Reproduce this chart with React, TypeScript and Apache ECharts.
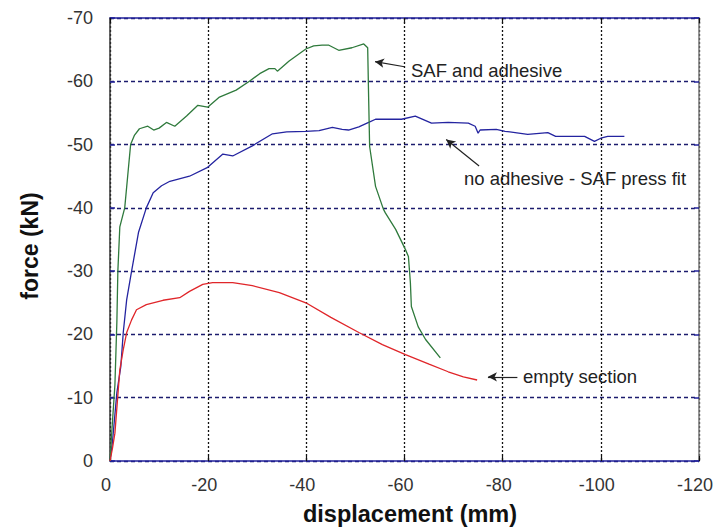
import React, { useEffect, useRef } from "react";
import * as echarts from "echarts";

const xTickInterval = 20;
const yTickInterval = 10;

const safAndAdhesive: [number, number][] = [
  [0, 0], [-0.4, -5], [-1, -12], [-1.4, -22], [-1.6, -30], [-2, -37], [-3, -40],
  [-3.6, -45], [-4.2, -50], [-5, -51.5], [-6, -52.5], [-7.7, -52.9], [-8.9, -52.3],
  [-10, -52.6], [-11.5, -53.5], [-13.2, -52.9], [-15.6, -54.5], [-17.9, -56.2],
  [-19.9, -55.9], [-22.3, -57.5], [-25.7, -58.6], [-28.4, -60], [-30.5, -61.2],
  [-32.4, -62], [-33.6, -62], [-34.1, -61.6], [-36.5, -63.2], [-39.9, -65.1],
  [-41.5, -65.6], [-43.2, -65.7], [-44.6, -65.7], [-46.6, -64.9], [-49.3, -65.3],
  [-51.7, -65.9], [-52.5, -65.3], [-52.7, -57.2], [-52.9, -49.7], [-54.1, -43.4],
  [-55.7, -39.8], [-56.1, -39.2], [-58.2, -36.6], [-60.2, -33.4], [-60.8, -32.3],
  [-61.2, -28.2], [-61.4, -24.4], [-62.8, -21.2], [-64.3, -19.2], [-67.3, -16.3],
];

const noAdhesive: [number, number][] = [
  [0, 0], [-0.5, -3], [-1.4, -10.8], [-2.2, -14.9], [-2.7, -20.3], [-3.4, -25.5],
  [-4.4, -30], [-5.8, -36.1], [-7.4, -40], [-8.8, -42.4], [-10.5, -43.5],
  [-12.2, -44.2], [-16.2, -45], [-19.9, -46.4], [-23, -48.5], [-25, -48.2],
  [-29, -49.8], [-33.1, -51.7], [-36, -52], [-39.9, -52.1], [-42.6, -52.2],
  [-45.3, -52.7], [-47.3, -52.4], [-48.6, -52.3], [-50.7, -52.8], [-52.7, -53.5],
  [-54.1, -54], [-59.4, -54], [-62.2, -54.5], [-65.5, -53.4], [-68.9, -53.5],
  [-73, -53.4], [-74.4, -52.9], [-75, -51.8], [-75.4, -52.3], [-78.7, -52.4],
  [-80.5, -52.1], [-85.1, -51.6], [-89.2, -51.9], [-90.8, -51.3], [-96.7, -51.3],
  [-98.7, -50.5], [-100, -51], [-101.4, -51.3], [-104.8, -51.3],
];

const emptySection: [number, number][] = [
  [0, 0], [-0.5, -2], [-1, -4.4], [-2, -14.4], [-2.7, -17.6], [-3.4, -20.3],
  [-4.4, -22.3], [-5.4, -23.9], [-7.4, -24.7], [-10.8, -25.4], [-14.2, -25.8],
  [-16.2, -26.8], [-18.9, -27.9], [-20.9, -28.2], [-25, -28.2], [-29, -27.7],
  [-34.5, -26.6], [-39.9, -25], [-45, -22.7], [-50.7, -20.3], [-55.5, -18.4],
  [-60.2, -16.8], [-65, -15.3], [-68.9, -14.1], [-72, -13.3], [-74.8, -12.8],
];

// annotation arrows: [tail, head] in data coordinates
const arrowSaf: [number, number][] = [[-60, -62.3], [-54, -63.1]];
const arrowNoAdh: [number, number][] = [[-75.2, -46.6], [-68.5, -50.8]];
const arrowEmpty: [number, number][] = [[-83, -13.3], [-77, -13.3]];

const labels = ["SAF and adhesive", "no adhesive - SAF press fit", "empty section"];

const FONT = "'Liberation Sans', Arial, sans-serif";

export default function App() {
  const ref = useRef<HTMLDivElement>(null);
  useEffect(() => {
    const chart = echarts.init(ref.current!, null, { renderer: "svg" });
    const arrowLine = (a: [number, number][]) => [
      { coord: a[0], symbol: "none" },
      { coord: a[1], symbol: "arrow" },
    ];
    chart.setOption({
      animation: false,
      backgroundColor: "#ffffff",
      grid: { left: 110, right: 14, top: 18, bottom: 70 },
      xAxis: [
        {
          type: "value",
          min: -120,
          max: 0,
          interval: xTickInterval,
          inverse: true,
          position: "bottom",
          axisLine: { show: true, onZero: false, lineStyle: { color: "#22229a", width: 1.5 } },
          axisTick: { show: true, inside: true, length: 5, lineStyle: { color: "#111", width: 1.2 } },
          axisLabel: {
            color: "#333",
            fontSize: 18,
            fontFamily: FONT,
            margin: 15,
            padding: [0, 8, 0, 0],
          },
          splitLine: {
            show: true,
            lineStyle: { color: "#111", type: [2, 2], width: 1.3 },
          },
        },
        {
          type: "value",
          min: -120,
          max: 0,
          interval: xTickInterval,
          inverse: true,
          position: "top",
          axisLine: { show: true, onZero: false, lineStyle: { color: "#22229a", width: 1.5 } },
          axisTick: { show: true, inside: true, length: 5, lineStyle: { color: "#111", width: 1.2 } },
          axisLabel: { show: false },
          splitLine: { show: false },
        },
      ],
      yAxis: [
        {
          type: "value",
          min: -70,
          max: 0,
          interval: yTickInterval,
          inverse: true,
          position: "left",
          axisLine: { show: true, onZero: false, lineStyle: { color: "#333", width: 1.5 } },
          axisTick: { show: true, inside: true, length: 5, lineStyle: { color: "#22229a", width: 1.5 } },
          axisLabel: { color: "#333", fontSize: 18, fontFamily: FONT, margin: 17 },
          splitLine: {
            show: true,
            lineStyle: { color: "#1c1c6e", type: [4, 3], width: 1.3 },
          },
        },
        {
          type: "value",
          min: -70,
          max: 0,
          interval: yTickInterval,
          inverse: true,
          position: "right",
          axisLine: { show: true, onZero: false, lineStyle: { color: "#777", width: 1.5 } },
          axisTick: { show: true, inside: true, length: 5, lineStyle: { color: "#22229a", width: 1.5 } },
          axisLabel: { show: false },
          splitLine: { show: false },
        },
      ],
      series: [
        {
          name: labels[1],
          type: "line",
          data: noAdhesive,
          showSymbol: false,
          lineStyle: { color: "#2424a0", width: 1.3 },
          itemStyle: { color: "#2424a0" },
          z: 3,
        },
        {
          name: labels[0],
          type: "line",
          data: safAndAdhesive,
          showSymbol: false,
          lineStyle: { color: "#2f7a3c", width: 1.3 },
          itemStyle: { color: "#2f7a3c" },
          z: 4,
        },
        {
          name: labels[2],
          type: "line",
          data: emptySection,
          showSymbol: false,
          lineStyle: { color: "#e0262a", width: 1.3 },
          itemStyle: { color: "#e0262a" },
          z: 5,
        },
        {
          name: "arrows",
          type: "line",
          data: [],
          silent: true,
          markLine: {
            silent: true,
            symbolSize: [7, 9],
            label: { show: false },
            lineStyle: { color: "#222", type: "solid", width: 1.2 },
            data: [arrowLine(arrowSaf), arrowLine(arrowNoAdh), arrowLine(arrowEmpty)],
          },
        },
      ],
      graphic: [
        {
          type: "text",
          x: 411,
          y: 70,
          style: {
            text: labels[0],
            fill: "#222",
            font: `18.5px ${FONT}`,
            textVerticalAlign: "middle",
          },
        },
        {
          type: "text",
          x: 464,
          y: 178,
          style: {
            text: labels[1],
            fill: "#222",
            font: `18.5px ${FONT}`,
            textVerticalAlign: "middle",
          },
        },
        {
          type: "text",
          x: 523,
          y: 376,
          style: {
            text: labels[2],
            fill: "#222",
            font: `18.5px ${FONT}`,
            textVerticalAlign: "middle",
          },
        },
        {
          type: "text",
          x: 410,
          y: 514,
          style: {
            text: "displacement (mm)",
            fill: "#111",
            font: `bold 23.5px ${FONT}`,
            textAlign: "center",
            textVerticalAlign: "middle",
          },
        },
        {
          type: "text",
          x: 30,
          y: 246,
          rotation: Math.PI / 2,
          style: {
            text: "force (kN)",
            fill: "#111",
            font: `bold 23px ${FONT}`,
            textAlign: "center",
            textVerticalAlign: "middle",
          },
        },
      ],
    });
    return () => chart.dispose();
  }, []);
  return (
    <div
      ref={ref}
      style={{ position: "fixed", left: 0, top: 0, width: 716, height: 531, background: "#fff" }}
    />
  );
}
